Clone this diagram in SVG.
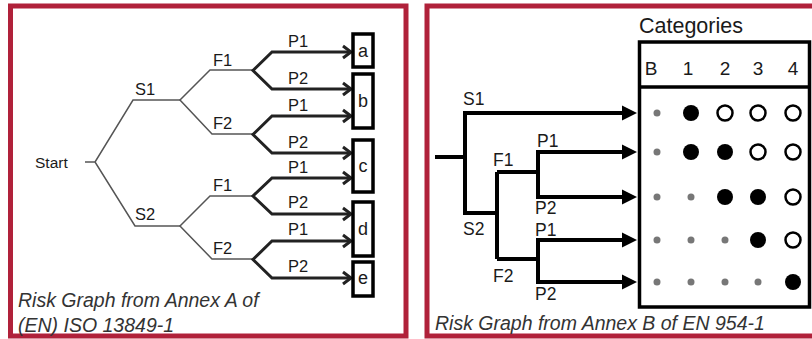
<svg xmlns="http://www.w3.org/2000/svg" width="812" height="339" viewBox="0 0 812 339">
<style>
.panel{fill:#fff;stroke:#B0213A;stroke-width:5}
.t{font-family:"Liberation Sans",Arial,sans-serif;fill:#1a1a1a}
.lab{font-size:16.5px}
.rlab{font-size:17.5px}
.cap{font-size:19.5px;font-style:italic;fill:#333}
.thin{fill:none;stroke:#555;stroke-width:1.5}
.thick{fill:none;stroke:#222;stroke-width:3;stroke-linejoin:miter}
.chev{fill:none;stroke:#222;stroke-width:3}
.box{fill:#fff;stroke:#000;stroke-width:3.5}
.rline{fill:none;stroke:#000;stroke-width:4;stroke-linejoin:miter}
.sm{fill:#777}
.big{fill:#000}
.open{fill:#fff;stroke:#000;stroke-width:2.5}
</style>
<defs>
<path id="ah" d="M0,0 L-15,-7.5 L-15,7.5 Z" fill="#000"/>
</defs>
<rect class="panel" x="10.5" y="6" width="395.5" height="330"/>
<rect class="panel" x="427" y="6" width="400" height="330"/>

<!-- Left risk graph -->
<g id="left-connectors">
<path class="thin" d="M85,162 H95 M180,100 H133 L95,162 L135,226 H180"/>
<path class="thin" d="M253,70 H210 L180,100 L212,134 H253"/>
<path class="thin" d="M253,196 H210 L180,226 L212,259 H253"/>
<path class="thick" d="M350,52 H272 L253,70.5 L272,89 H350"/>
<path class="thick" d="M350,116 H272 L253,134.5 L272,153 H350"/>
<path class="thick" d="M350,178 H272 L253,196 L272,214 H350"/>
<path class="thick" d="M350,241 H272 L253,259.5 L272,278 H350"/>
<path class="chev" d="M343,46 L351,52 L343,58 M343,83 L351,89 L343,95 M343,110 L351,116 L343,122 M343,147 L351,153 L343,159 M343,172 L351,178 L343,184 M343,208 L351,214 L343,220 M343,235 L351,241 L343,247 M343,272 L351,278 L343,284"/>
</g>
<g id="start"><text class="t" x="35" y="168" font-size="15.5">Start</text></g>
<g id="left-labels">
<text class="t lab" x="135" y="95">S1</text>
<text class="t lab" x="135" y="220">S2</text>
<text class="t lab" x="213" y="66">F1</text>
<text class="t lab" x="213" y="129">F2</text>
<text class="t lab" x="213" y="191">F1</text>
<text class="t lab" x="213" y="254">F2</text>
<text class="t lab" x="288" y="47">P1</text>
<text class="t lab" x="288" y="84">P2</text>
<text class="t lab" x="288" y="111">P1</text>
<text class="t lab" x="288" y="148">P2</text>
<text class="t lab" x="288" y="173">P1</text>
<text class="t lab" x="288" y="208">P2</text>
<text class="t lab" x="288" y="235">P1</text>
<text class="t lab" x="288" y="272">P2</text>
</g>
<g id="box-a"><rect class="box" x="353" y="34" width="20" height="33"/><text class="t" font-size="18" x="363" y="57" text-anchor="middle">a</text></g>
<g id="box-b"><rect class="box" x="353" y="74" width="20" height="54"/><text class="t" font-size="18" x="363" y="107" text-anchor="middle">b</text></g>
<g id="box-c"><rect class="box" x="353" y="140" width="20" height="52"/><text class="t" font-size="18" x="363" y="172" text-anchor="middle">c</text></g>
<g id="box-d"><rect class="box" x="353" y="202" width="20" height="54"/><text class="t" font-size="18" x="363" y="235" text-anchor="middle">d</text></g>
<g id="box-e"><rect class="box" x="353" y="262" width="20" height="34"/><text class="t" font-size="18" x="363" y="284" text-anchor="middle">e</text></g>
<g id="left-caption">
<text class="t cap" x="18" y="307">Risk Graph from Annex A of</text>
<text class="t cap" x="18" y="332">(EN) ISO 13849-1</text>
</g>

<!-- Right risk graph -->
<g id="right-connectors">
<path class="rline" d="M435,157 H465 M623,113 H465 V213 H497 M497,172 V259"/>
<path class="rline" d="M497,172 H538 M623,152 H538 V197 H623"/>
<path class="rline" d="M497,259 H538 M623,240 H538 V282 H623"/>
<use href="#ah" x="637" y="113"/>
<use href="#ah" x="637" y="152"/>
<use href="#ah" x="637" y="197"/>
<use href="#ah" x="637" y="240"/>
<use href="#ah" x="637" y="282"/>
</g>
<g id="right-labels">
<text class="t rlab" x="463" y="105">S1</text>
<text class="t rlab" x="463" y="235">S2</text>
<text class="t rlab" x="493" y="166">F1</text>
<text class="t rlab" x="493" y="282">F2</text>
<text class="t rlab" x="537" y="147">P1</text>
<text class="t rlab" x="535" y="214">P2</text>
<text class="t rlab" x="535" y="236">P1</text>
<text class="t rlab" x="535" y="300">P2</text>
</g>
<g id="categories-table">
<text class="t" x="639" y="33" font-size="21.5">Categories</text>
<rect x="639.5" y="42" width="170" height="265" fill="#fff" stroke="#000" stroke-width="3.5"/>
<line x1="639.5" y1="87" x2="809.5" y2="87" stroke="#000" stroke-width="3.5"/>
<g class="t" font-size="19" text-anchor="middle">
<text x="651" y="75">B</text><text x="688" y="75">1</text><text x="725" y="75">2</text><text x="758" y="75">3</text><text x="793" y="75">4</text>
</g>
<circle class="sm" cx="657" cy="113" r="3.5"/><circle class="big" cx="691" cy="113" r="8"/><circle class="open" cx="725" cy="113" r="7.5"/><circle class="open" cx="758" cy="113" r="7.5"/><circle class="open" cx="793" cy="113" r="7.5"/>
<circle class="sm" cx="657" cy="152" r="3.5"/><circle class="big" cx="691" cy="152" r="8"/><circle class="big" cx="725" cy="152" r="8"/><circle class="open" cx="758" cy="152" r="7.5"/><circle class="open" cx="793" cy="152" r="7.5"/>
<circle class="sm" cx="657" cy="197" r="3.5"/><circle class="sm" cx="691" cy="197" r="3.5"/><circle class="big" cx="725" cy="197" r="8"/><circle class="big" cx="758" cy="197" r="8"/><circle class="open" cx="793" cy="197" r="7.5"/>
<circle class="sm" cx="657" cy="240" r="3.5"/><circle class="sm" cx="691" cy="240" r="3.5"/><circle class="sm" cx="725" cy="240" r="3.5"/><circle class="big" cx="758" cy="240" r="8"/><circle class="open" cx="793" cy="240" r="7.5"/>
<circle class="sm" cx="657" cy="282" r="3.5"/><circle class="sm" cx="691" cy="282" r="3.5"/><circle class="sm" cx="725" cy="282" r="3.5"/><circle class="sm" cx="758" cy="282" r="3.5"/><circle class="big" cx="793" cy="282" r="8"/>
</g>
<g id="right-caption">
<text class="t cap" x="435" y="330">Risk Graph from Annex B of EN 954-1</text>
</g>
</svg>
